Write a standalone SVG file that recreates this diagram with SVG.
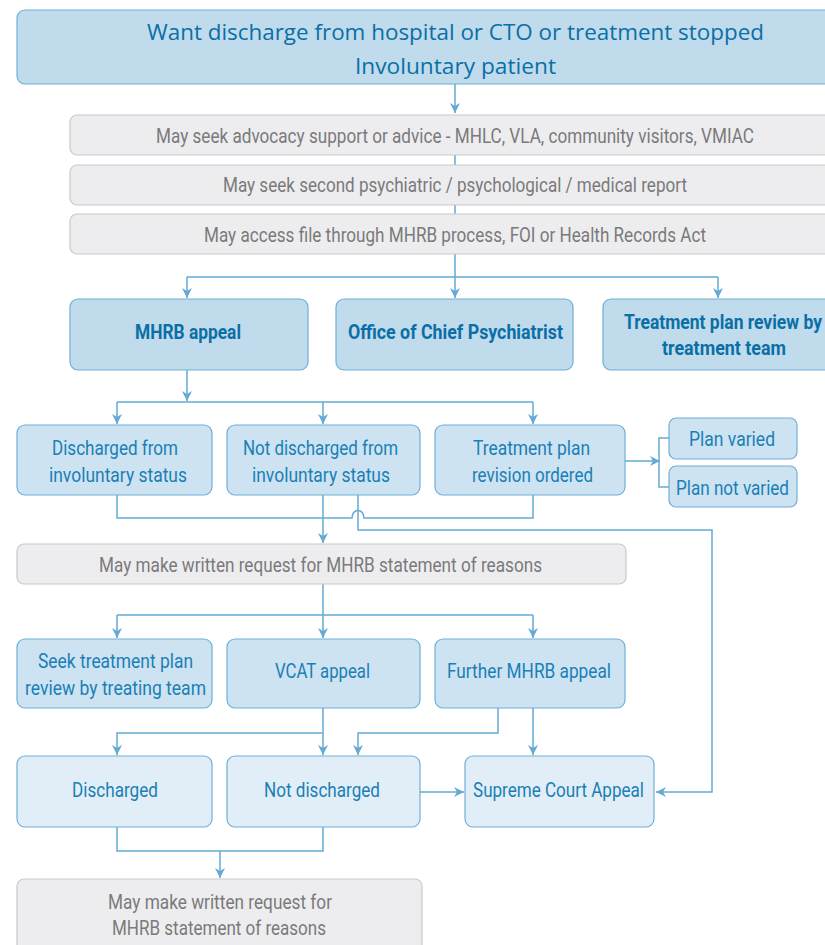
<svg xmlns="http://www.w3.org/2000/svg" width="825" height="945" viewBox="0 0 825 945">
<defs>
<style>
.t{font-family:Roboto,"Liberation Sans",sans-serif;text-anchor:middle}
.b1 text.title{font-family:"Open Sans",Lato,sans-serif;font-size:22px;fill:#0a6fa6;font-weight:normal;text-anchor:middle}
.g rect{fill:#ededf0;stroke:#c9c9cc;stroke-width:1.2}
.g text{font-size:20px;fill:#7a7a7a}
.b1 rect{fill:#bfdbec;stroke:#6eb0d6;stroke-width:1.2}
.b1 text{font-size:20px;fill:#0a6fa6;font-weight:bold}
.b2 rect{fill:#cde3f2;stroke:#6eb0d6;stroke-width:1.2}
.b2 text{font-size:20px;fill:#1a7fb5}
.b3 rect{fill:#e1eef8;stroke:#6eb0d6;stroke-width:1.2}
.b3 text{font-size:20px;fill:#1a7fb5}
.c path{fill:none;stroke:#64aad4;stroke-width:1.5}
</style>
<marker id="a" viewBox="0 0 10 10" refX="10" refY="5" markerWidth="10" markerHeight="10" markerUnits="userSpaceOnUse" orient="auto">
<path d="M0,0 L10,5 L0,10 L3,5 z" fill="#64aad4"/>
</marker>
</defs>

<g id="top" class="b1">
<rect x="17" y="10" width="830" height="74" rx="8"/>
<text class="title" x="455.5" y="40" textLength="617" lengthAdjust="spacingAndGlyphs">Want discharge from hospital or CTO or treatment stopped</text>
<text class="title" x="455.5" y="74" textLength="201" lengthAdjust="spacingAndGlyphs">Involuntary patient</text>
</g>

<g id="connectors" class="c">
<path d="M455,84 V113" marker-end="url(#a)"/>
<path d="M455,155 V165"/>
<path d="M455,205 V214"/>
<path d="M455,254 V277"/>
<path d="M187,277 H718"/>
<path d="M187,277 V298" marker-end="url(#a)"/>
<path d="M455,277 V298" marker-end="url(#a)"/>
<path d="M718,277 V298" marker-end="url(#a)"/>
<path d="M187,370 V401" marker-end="url(#a)"/>
<path d="M117,402 H533"/>
<path d="M117,402 V424" marker-end="url(#a)"/>
<path d="M323,402 V424" marker-end="url(#a)"/>
<path d="M533,402 V424" marker-end="url(#a)"/>
<path d="M625,461 H660" marker-end="url(#a)"/>
<path d="M669,438 H659 V487 H669"/>
<path d="M117,495 V518 H352 C352,508 364,508 364,518 H533 V495"/>
<path d="M323,495 V543" marker-end="url(#a)"/>
<path d="M358,495 V530 H712 V792 H656" marker-end="url(#a)"/>
<path d="M323,584 V615"/>
<path d="M117,615 H533"/>
<path d="M117,615 V638" marker-end="url(#a)"/>
<path d="M323,615 V638" marker-end="url(#a)"/>
<path d="M533,615 V638" marker-end="url(#a)"/>
<path d="M323,708 V755" marker-end="url(#a)"/>
<path d="M323,733 H117 V755" marker-end="url(#a)"/>
<path d="M498,708 V733 H358 V755" marker-end="url(#a)"/>
<path d="M533,708 V755" marker-end="url(#a)"/>
<path d="M420,792 H464" marker-end="url(#a)"/>
<path d="M117,827 V851 H323 V827"/>
<path d="M220,851 V878" marker-end="url(#a)"/>
</g>

<g id="advocacy" class="g">
<rect x="70" y="115" width="780" height="40" rx="7"/>
<text class="t" x="455" y="143" textLength="598" lengthAdjust="spacingAndGlyphs">May seek advocacy support or advice - MHLC, VLA, community visitors, VMIAC</text>
</g>
<g id="second-report" class="g">
<rect x="70" y="165" width="780" height="40" rx="7"/>
<text class="t" x="455" y="192" textLength="464" lengthAdjust="spacingAndGlyphs">May seek second psychiatric / psychological / medical report</text>
</g>
<g id="access-file" class="g">
<rect x="70" y="214" width="780" height="40" rx="7"/>
<text class="t" x="455" y="242" textLength="502" lengthAdjust="spacingAndGlyphs">May access file through MHRB process, FOI or Health Records Act</text>
</g>

<g id="mhrb-appeal" class="b1">
<rect x="70" y="299" width="238" height="71" rx="8"/>
<text class="t" x="188" y="339" textLength="106" lengthAdjust="spacingAndGlyphs">MHRB appeal</text>
</g>
<g id="chief-psychiatrist" class="b1">
<rect x="336" y="299" width="237" height="71" rx="8"/>
<text class="t" x="455.5" y="339" textLength="215" lengthAdjust="spacingAndGlyphs">Office of Chief Psychiatrist</text>
</g>
<g id="treatment-review" class="b1">
<rect x="603" y="299" width="240" height="71" rx="8"/>
<text class="t" x="723" y="329" textLength="198" lengthAdjust="spacingAndGlyphs">Treatment plan review by</text>
<text class="t" x="724" y="355" textLength="124" lengthAdjust="spacingAndGlyphs">treatment team</text>
</g>

<g id="discharged-invol" class="b2">
<rect x="17" y="425" width="195" height="70" rx="8"/>
<text class="t" x="115" y="455" textLength="126" lengthAdjust="spacingAndGlyphs">Discharged from</text>
<text class="t" x="118" y="482" textLength="138" lengthAdjust="spacingAndGlyphs">involuntary status</text>
</g>
<g id="not-discharged-invol" class="b2">
<rect x="227" y="425" width="193" height="70" rx="8"/>
<text class="t" x="320.5" y="455" textLength="155" lengthAdjust="spacingAndGlyphs">Not discharged from</text>
<text class="t" x="321" y="482" textLength="138" lengthAdjust="spacingAndGlyphs">involuntary status</text>
</g>
<g id="revision-ordered" class="b2">
<rect x="435" y="425" width="190" height="70" rx="8"/>
<text class="t" x="531.5" y="455" textLength="117" lengthAdjust="spacingAndGlyphs">Treatment plan</text>
<text class="t" x="532.5" y="482" textLength="121" lengthAdjust="spacingAndGlyphs">revision ordered</text>
</g>
<g id="plan-varied" class="b2">
<rect x="669" y="418" width="128" height="41" rx="7"/>
<text class="t" x="732" y="446" textLength="86" lengthAdjust="spacingAndGlyphs">Plan varied</text>
</g>
<g id="plan-not-varied" class="b2">
<rect x="669" y="466" width="128" height="41" rx="7"/>
<text class="t" x="732.5" y="495" textLength="113" lengthAdjust="spacingAndGlyphs">Plan not varied</text>
</g>

<g id="statement-reasons" class="g">
<rect x="17" y="544" width="609" height="40" rx="7"/>
<text class="t" x="320.5" y="572" textLength="443" lengthAdjust="spacingAndGlyphs">May make written request for MHRB statement of reasons</text>
</g>

<g id="seek-review" class="b2">
<rect x="17" y="639" width="195" height="69" rx="8"/>
<text class="t" x="115.5" y="668" textLength="155" lengthAdjust="spacingAndGlyphs">Seek treatment plan</text>
<text class="t" x="115.5" y="695" textLength="181" lengthAdjust="spacingAndGlyphs">review by treating team</text>
</g>
<g id="vcat-appeal" class="b2">
<rect x="227" y="639" width="193" height="69" rx="8"/>
<text class="t" x="322.5" y="678" textLength="95" lengthAdjust="spacingAndGlyphs">VCAT appeal</text>
</g>
<g id="further-mhrb" class="b2">
<rect x="435" y="639" width="190" height="69" rx="8"/>
<text class="t" x="529" y="678" textLength="164" lengthAdjust="spacingAndGlyphs">Further MHRB appeal</text>
</g>

<g id="discharged" class="b3">
<rect x="17" y="756" width="195" height="71" rx="8"/>
<text class="t" x="115" y="797" textLength="86" lengthAdjust="spacingAndGlyphs">Discharged</text>
</g>
<g id="not-discharged" class="b3">
<rect x="227" y="756" width="193" height="71" rx="8"/>
<text class="t" x="322" y="797" textLength="116" lengthAdjust="spacingAndGlyphs">Not discharged</text>
</g>
<g id="supreme-court" class="b3">
<rect x="465" y="756" width="189" height="71" rx="8"/>
<text class="t" x="558.5" y="797" textLength="171" lengthAdjust="spacingAndGlyphs">Supreme Court Appeal</text>
</g>

<g id="statement-reasons-2" class="g">
<rect x="17" y="879" width="405" height="80" rx="7"/>
<text class="t" x="220" y="909" textLength="224" lengthAdjust="spacingAndGlyphs">May make written request for</text>
<text class="t" x="219" y="935" textLength="214" lengthAdjust="spacingAndGlyphs">MHRB statement of reasons</text>
</g>
</svg>
